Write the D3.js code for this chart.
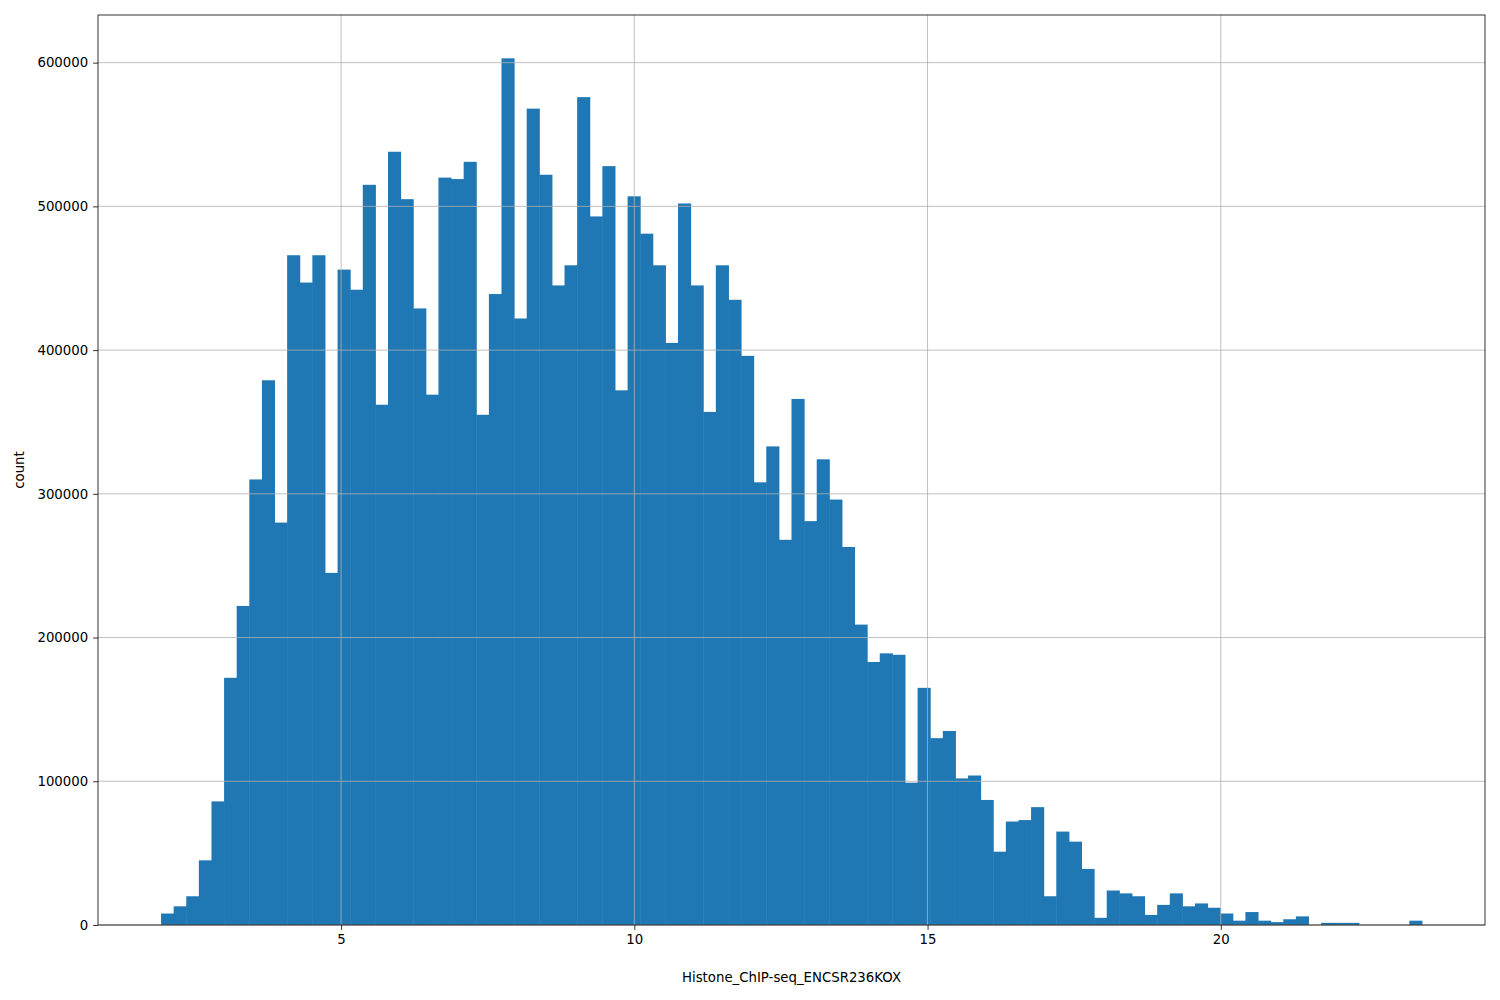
<!DOCTYPE html>
<html>
<head>
<meta charset="utf-8">
<script src="https://cdn.jsdelivr.net/npm/d3@7"></script>
<style>
  body { margin: 0; background: #fff; }
  text { font-family: "DejaVu Sans", sans-serif; }
</style>
</head>
<body>
<div class="chart"></div>
<script>
// histogram: 100 bins starting at binStart, each binWidth wide
var binStart = 1.93,
    binWidth = 0.215;
var counts = [
    8000, 13000, 20000, 45000, 86000, 172000, 222000, 310000, 379000, 280000,
    466000, 447000, 466000, 245000, 456000, 442000, 515000, 362000, 538000, 505000,
    429000, 369000, 520000, 519000, 531000, 355000, 439000, 603000, 422000, 568000,
    522000, 445000, 459000, 576000, 493000, 528000, 372000, 507000, 481000, 459000,
    405000, 502000, 445000, 357000, 459000, 435000, 396000, 308000, 333000, 268000,
    366000, 281000, 324000, 296000, 263000, 209000, 183000, 189000, 188000, 99000,
    165000, 130000, 135000, 102000, 104000, 87000, 51000, 72000, 73000, 82000,
    20000, 65000, 58000, 39000, 5000, 24000, 22000, 20000, 7000, 14000,
    22000, 13000, 15000, 12000, 8000, 3000, 9000, 3000, 2000, 4000,
    6000, 0, 1500, 1500, 1500, 0, 0, 0, 0, 3000
];
var xTicks = [5, 10, 15, 20];
var yTicks = [0, 100000, 200000, 300000, 400000, 500000, 600000];
var xLabel = "Histone_ChIP-seq_ENCSR236KOX",
    yLabel = "count";

var bins = counts.map(function (c, i) {
    return { x0: binStart + i * binWidth, x1: binStart + (i + 1) * binWidth, count: c };
});

var margin = { top: 15, right: 15, bottom: 75, left: 98 },
    width = 1500 - margin.left - margin.right,
    height = 1000 - margin.top - margin.bottom;

var lo = binStart, hi = binStart + counts.length * binWidth, pad = (hi - lo) * 0.05;
var xScale = d3.scaleLinear().domain([lo - pad, hi + pad]).range([0, width]);
var yMax = d3.max(counts) * 1.05;
var yScale = d3.scaleLinear().domain([0, yMax]).range([height, 0]);

var svg = d3.select(".chart").append("svg")
    .attr("width", 1500)
    .attr("height", 1000)
    .append("g")
    .attr("transform", "translate(" + margin.left + "," + margin.top + ")");

// bars (slightly overlapping to hide seams)
svg.selectAll(".bar")
    .data(bins)
    .enter().append("rect")
    .attr("class", "bar")
    .attr("x", function (d) { return xScale(d.x0); })
    .attr("width", function (d) { return xScale(d.x1) - xScale(d.x0) + 0.5; })
    .attr("y", function (d) { return yScale(d.count); })
    .attr("height", function (d) { return height - yScale(d.count); })
    .style("fill", "#1f77b4");

// grid on top of bars
svg.selectAll(".vgrid").data(xTicks).enter().append("line")
    .attr("x1", function (d) { return xScale(d); }).attr("x2", function (d) { return xScale(d); })
    .attr("y1", 0).attr("y2", height)
    .style("stroke", "#b0b0b0").style("stroke-width", 0.8);
svg.selectAll(".hgrid").data(yTicks).enter().append("line")
    .attr("x1", 0).attr("x2", width)
    .attr("y1", function (d) { return yScale(d); }).attr("y2", function (d) { return yScale(d); })
    .style("stroke", "#b0b0b0").style("stroke-width", 0.8);

// axes
var xAxis = d3.axisBottom(xScale).tickValues(xTicks).tickSize(4.9).tickPadding(4.9).tickFormat(d3.format("d"));
var yAxis = d3.axisLeft(yScale).tickValues(yTicks).tickSize(4.9).tickPadding(4.9).tickFormat(d3.format("d"));

var gx = svg.append("g").attr("transform", "translate(0," + height + ")").call(xAxis);
var gy = svg.append("g").call(yAxis);
[gx, gy].forEach(function (g) {
    g.select(".domain").remove();
    g.selectAll("text").style("font-size", "13.3px").style("fill", "#000");
    g.selectAll("line").style("stroke", "#000").style("stroke-width", 0.8);
});

// frame
svg.append("rect").attr("width", width).attr("height", height)
    .style("fill", "none").style("stroke", "#000").style("stroke-width", 0.8);

// labels
svg.append("text")
    .attr("x", width / 2).attr("y", height + 57)
    .style("text-anchor", "middle").style("font-size", "13.3px")
    .text(xLabel);
svg.append("text")
    .attr("transform", "rotate(-90)")
    .attr("x", -height / 2).attr("y", -74)
    .style("text-anchor", "middle").style("font-size", "13.3px")
    .text(yLabel);
</script>
</body>
</html>
